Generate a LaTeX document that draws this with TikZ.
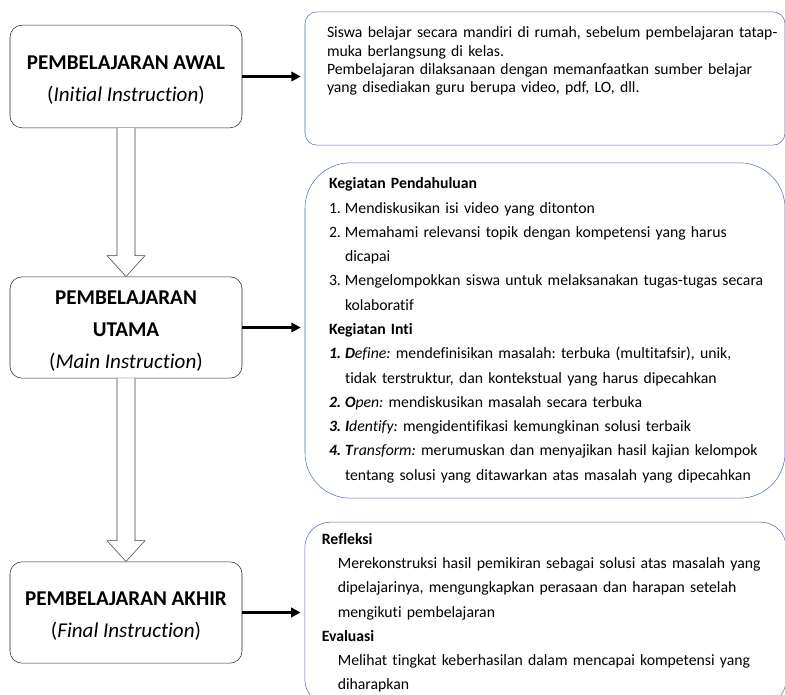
\documentclass[tikz,border=0pt]{standalone}
\usepackage{fontspec}
\setmainfont{Carlito}[Ligatures=NoCommon]
\frenchspacing
\usetikzlibrary{positioning,calc,arrows.meta}
\definecolor{boxblue}{RGB}{79,114,184}
\newcommand{\butir}[2]{{\hangindent=12pt\hangafter=1\noindent\makebox[12pt][l]{#1}#2\par}}
\newcommand{\sisip}[1]{{\leftskip=12pt\noindent #1\par}}

\begin{document}
\begin{tikzpicture}[x=0.75pt, y=-0.75pt, every node/.style={font=\fontsize{11.8}{13.7}\selectfont}]
            \path[use as bounding box, clip] (0,0) rectangle (785,695);
            % tahap pembelajaran
            \node[draw=black!85, rounded corners=9pt, minimum width=174pt, minimum height=77pt, align=center, font=\fontsize{15.8}{24}\selectfont] (awal) at (126,76.5) {\rule{0pt}{16pt}\textbf{PEMBELAJARAN AWAL}\\(\textit{Initial Instruction})};
            \node[draw=black!85, rounded corners=9pt, minimum width=174pt, minimum height=76pt, align=center, font=\fontsize{15.8}{24}\selectfont] (utama) at (126,327.5) {\rule{0pt}{16pt}\textbf{PEMBELAJARAN}\\\textbf{UTAMA}\\(\textit{Main Instruction})};
            \node[draw=black!85, rounded corners=9pt, minimum width=174pt, minimum height=76pt, align=center, font=\fontsize{15.8}{24}\selectfont] (akhir) at (126,612.5) {\rule{0pt}{16pt}\textbf{PEMBELAJARAN AKHIR}\\(\textit{Final Instruction})};
            % kotak keterangan
            \node[draw=boxblue, rounded corners=9pt, minimum width=360pt, minimum height=100pt] (ketawal) at (545,78.5) {};
            \node[draw=boxblue, rounded corners=34pt, minimum width=360pt, minimum height=251.5pt] (ketutama) at (545,330.5) {};
            \node[draw=boxblue, rounded corners=19pt, minimum width=361pt, minimum height=137pt] (ketakhir) at (545.5,613.5) {};
            \node[anchor=north west, inner sep=0pt, text width=350pt, align=left] (isiawal) at ($(ketawal.north west)+(22,15)$) {Siswa belajar secara mandiri di rumah, sebelum pembelajaran tatap-\\muka berlangsung di kelas.\\Pembelajaran dilaksanaan dengan memanfaatkan sumber belajar\\yang disediakan guru berupa video, pdf, LO, dll.};
            \node[anchor=north west, inner sep=0pt, text width=350pt, align=left, font=\fontsize{11.8}{18.2}\selectfont] (isiutama) at ($(ketutama.north west)+(24,15)$) {%
                \textbf{Kegiatan Pendahuluan}\par
                \butir{1.}{Mendiskusikan isi video yang ditonton}
                \butir{2.}{Memahami relevansi topik dengan kompetensi yang harus\newline dicapai}
                \butir{3.}{Mengelompokkan siswa untuk melaksanakan tugas-tugas secara\newline kolaboratif}
                \textbf{Kegiatan Inti}\par
                \butir{\textbf{\textit{1.}}}{\textbf{\textit{D}}\textit{efine:} mendefinisikan masalah: terbuka (multitafsir), unik,\newline tidak terstruktur, dan kontekstual yang harus dipecahkan}
                \butir{\textbf{\textit{2.}}}{\textbf{\textit{O}}\textit{pen:} mendiskusikan masalah secara terbuka}
                \butir{\textbf{\textit{3.}}}{\textbf{\textit{I}}\textit{dentify:} mengidentifikasi kemungkinan solusi terbaik}
                \butir{\textbf{\textit{4.}}}{\textbf{\textit{T}}\textit{ransform:} merumuskan dan menyajikan hasil kajian kelompok\newline tentang solusi yang ditawarkan atas masalah yang dipecahkan}};
            \node[anchor=north west, inner sep=0pt, text width=350pt, align=left, font=\fontsize{11.8}{18.2}\selectfont] (isiakhir) at ($(ketakhir.north west)+(17,11)$) {%
                \textbf{Refleksi}\par
                \sisip{Merekonstruksi hasil pemikiran sebagai solusi atas masalah yang\newline dipelajarinya, mengungkapkan perasaan dan harapan setelah\newline mengikuti pembelajaran}
                \textbf{Evaluasi}\par
                \sisip{Melihat tingkat keberhasilan dalam mencapai kompetensi yang\newline diharapkan}};
            % panah ke keterangan
            \draw[line width=2pt, -{Triangle[length=7pt,width=7pt]}, shorten >=3pt] (awal.east) -- (awal.east -| ketawal.west);
            \draw[line width=2pt, -{Triangle[length=7pt,width=7pt]}, shorten >=3pt] (utama.east) -- (utama.east -| ketutama.west);
            \draw[line width=2pt, -{Triangle[length=7pt,width=7pt]}, shorten >=3pt] (akhir.east) -- (akhir.east -| ketakhir.west);
            % panah antar tahap
            \draw[black!75, fill=white] ($(awal.south)+(-9,0)$) -- ($(utama.north)+(-9,-21)$) -- ($(utama.north)+(-19,-21)$) -- (utama.north) -- ($(utama.north)+(19,-21)$) -- ($(utama.north)+(9,-21)$) -- ($(awal.south)+(9,0)$);
            \draw[black!75, fill=white] ($(utama.south)+(-9,0)$) -- ($(akhir.north)+(-9,-21)$) -- ($(akhir.north)+(-19,-21)$) -- (akhir.north) -- ($(akhir.north)+(19,-21)$) -- ($(akhir.north)+(9,-21)$) -- ($(utama.south)+(9,0)$);
        \end{tikzpicture}
\end{document}
